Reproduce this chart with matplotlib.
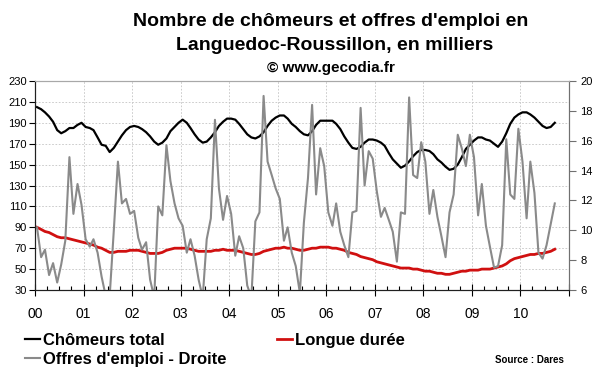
import matplotlib
matplotlib.use('Agg')
import matplotlib.pyplot as plt
import matplotlib.dates as mdates
from matplotlib.transforms import ScaledTranslation
import pandas as pd

plt.rcParams['font.family'] = ['Liberation Sans', 'DejaVu Sans']

# une valeur par mois, de janvier 2000 a septembre 2010
mois = pd.date_range('2000-01-01', periods=129, freq='MS') + pd.Timedelta(days=15)

chomeurs_total = [
    205, 203, 200, 196, 191, 183, 180, 182, 185, 185, 188, 190,
    186, 185, 183, 176, 169, 168, 162, 166, 172, 178, 183, 186,
    187, 186, 184, 181, 177, 172, 169, 171, 175, 182, 186, 190,
    193, 190, 185, 179, 174, 171, 172, 176, 181, 187, 191, 194,
    194, 193, 189, 184, 179, 176, 175, 177, 181, 187, 192, 195,
    197, 197, 194, 189, 186, 182, 179, 178, 182, 188, 192, 192,
    192, 192, 189, 184, 177, 171, 166, 165, 167, 171, 174, 174,
    173, 171, 168, 161, 155, 151, 147, 149, 153, 158, 162, 164,
    164, 163, 160, 155, 152, 148, 145, 146, 150, 157, 165, 169,
    173, 176, 176, 174, 173, 170, 167, 172, 180, 189, 195, 198,
    200, 200, 198, 195, 191, 187, 185, 186, 190,
]

longue_duree = [
    90, 88, 86, 85, 83, 81, 80, 80, 79, 78, 77, 76,
    75, 74, 73, 71, 70, 68, 66, 66, 67, 67, 67, 68,
    68, 68, 67, 66, 65, 65, 65, 66, 68, 69, 70, 70,
    70, 70, 69, 68, 67, 67, 67, 67, 68, 68, 69, 68,
    68, 68, 67, 66, 65, 64, 64, 65, 67, 68, 69, 70,
    70, 71, 70, 70, 69, 68, 68, 69, 70, 70, 71, 71,
    71, 70, 70, 69, 68, 66, 65, 64, 62, 61, 60, 59,
    57, 56, 55, 54, 53, 52, 51, 51, 51, 50, 50, 49,
    48, 48, 47, 46, 46, 45, 45, 46, 47, 48, 48, 49,
    49, 49, 50, 50, 50, 51, 52, 53, 55, 58, 60, 61,
    62, 63, 64, 64, 65, 65, 66, 67, 69,
]

# axe de droite
offres_emploi = [
    10.2, 8.2, 8.7, 7.0, 7.8, 6.5, 7.7, 9.3, 14.9, 11.1, 13.1, 11.7,
    9.4, 8.9, 9.4, 8.5, 6.9, 5.6, 5.6, 10.0, 14.6, 11.8, 12.1, 11.1,
    11.3, 9.5, 8.7, 9.2, 6.7, 5.5, 11.6, 11.0, 15.7, 13.3, 11.8, 10.8,
    10.3, 8.5, 9.4, 8.3, 6.7, 5.5, 9.4, 10.8, 17.4, 12.8, 10.7, 12.3,
    11.1, 8.3, 9.6, 8.8, 6.3, 5.5, 10.6, 11.2, 19.0, 14.6, 13.7, 12.8,
    12.1, 9.3, 10.2, 8.5, 7.6, 5.8, 10.5, 13.5, 18.4, 12.4, 15.5, 14.3,
    11.2, 10.3, 11.8, 9.9, 9.0, 8.2, 11.2, 11.3, 18.2, 13.0, 15.3, 14.8,
    12.6, 10.9, 11.5, 10.7, 9.9, 7.9, 11.2, 11.1, 18.9, 13.7, 13.5, 15.9,
    14.6, 11.1, 12.7, 10.9, 9.6, 8.2, 11.2, 12.4, 16.4, 15.5, 14.3, 16.4,
    14.9, 11.0, 13.1, 10.3, 8.9, 7.5, 7.6, 9.0, 16.1, 12.4, 12.1, 16.8,
    14.6, 10.8, 14.6, 12.5, 8.5, 8.1, 9.0, 10.4, 11.8,
]

annees = pd.date_range('2000-01-01', '2011-01-01', freq='YS')
etiquettes = ['00', '01', '02', '03', '04', '05', '06', '07', '08', '09', '10', '']

fig = plt.figure(figsize=(6, 3.72), dpi=100)
ax = fig.add_axes([35 / 600, 82 / 372, 534 / 600, 209 / 372])
ax2 = ax.twinx()

l1, = ax.plot(mois, chomeurs_total, color='black', lw=1.6, zorder=3)
l2, = ax.plot(mois, longue_duree, color='#d01010', lw=2.0, zorder=3)
l3, = ax2.plot(mois, offres_emploi, color='#8a8a8a', lw=1.5)

ax.set_xlim(annees[0], annees[-1])
ax.set_ylim(30, 230)
ax.set_yticks(range(30, 231, 20))
ax2.set_ylim(6, 20)
ax2.set_yticks(range(6, 21, 2))

ax.set_xticks(annees)
ax.set_xticklabels(etiquettes)
ax.xaxis.set_minor_locator(mdates.MonthLocator(bymonth=[4, 7, 10]))
for lab in ax.get_xticklabels():
    lab.set_transform(lab.get_transform() + ScaledTranslation(4 / 100, 0, fig.dpi_scale_trans))

ax.grid(True, which='major', color='#c4c4c4', linestyle=(0, (2, 2)), linewidth=0.6)
ax.set_axisbelow(True)

ax.tick_params(axis='y', direction='out', length=4, width=0.8, labelsize=8, pad=2)
ax.tick_params(axis='x', which='major', direction='inout', length=8, width=0.8, labelsize=10, pad=8)
ax.tick_params(axis='x', which='minor', direction='in', length=3, width=0.8)
ax2.tick_params(axis='y', direction='out', length=5, width=0.8, labelsize=8, pad=3, color='#707070')

for a in (ax, ax2):
    a.spines['top'].set_color('#a8a8a8')
    a.spines['left'].set_color('#202020')
    a.spines['bottom'].set_color('#202020')
    a.spines['right'].set_color('#707070')

fig.text(0.551, 1 - 21 / 372, "Nombre de chômeurs et offres d'emploi en",
         ha='center', va='center', fontsize=14, fontweight='bold')
fig.text(0.558, 1 - 46 / 372, "Languedoc-Roussillon, en milliers",
         ha='center', va='center', fontsize=14, fontweight='bold')
fig.text(0.551, 1 - 68 / 372, "© www.gecodia.fr",
         ha='center', va='center', fontsize=11, fontweight='bold')

fig.legend([l1, l3, l2], ['Chômeurs total', "Offres d'emploi - Droite", 'Longue durée'],
           ncol=2, loc='upper left', bbox_to_anchor=(25 / 600, 1 - 333 / 372),
           frameon=False, prop={'weight': 'bold', 'size': 12},
           handlelength=0.9, handletextpad=0.2, columnspacing=3.0,
           labelspacing=0.25, borderpad=0, borderaxespad=0)

fig.text(529 / 600, 1 - 360 / 372, 'Source : Dares', ha='center', va='center',
         fontsize=7, fontweight='bold')

fig.savefig('out.png', dpi=100)
